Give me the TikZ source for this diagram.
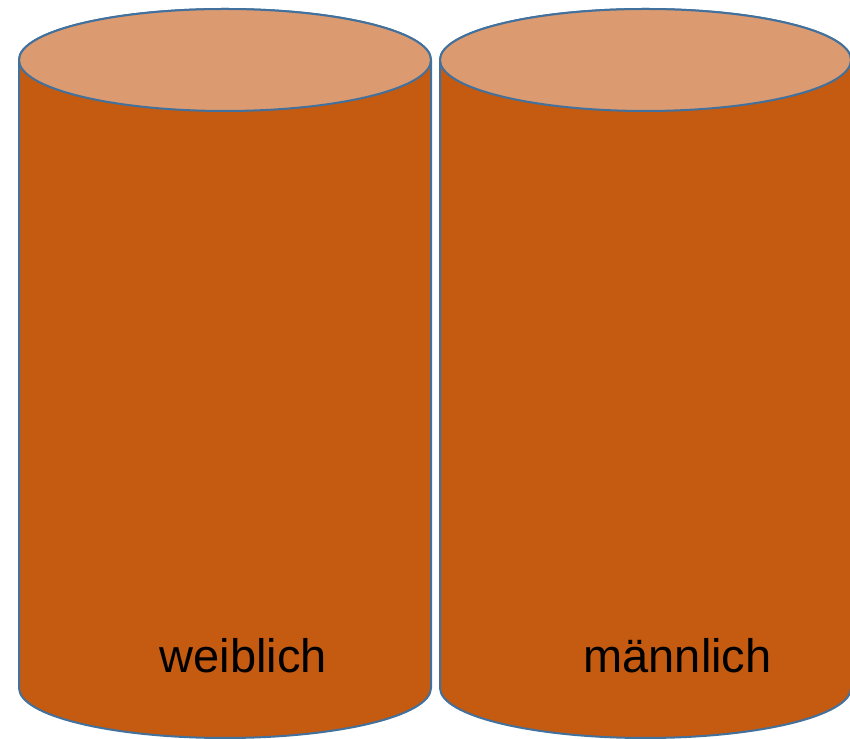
\documentclass[tikz,border=0pt]{standalone}
\usepackage{fontspec}
\setmainfont{Liberation Sans}
\usepackage{tikz}
\usetikzlibrary{positioning}
\definecolor{bodyorange}{HTML}{C55A11}
\definecolor{toporange}{HTML}{DC9A70}
\definecolor{rimblue}{HTML}{41719C}

\begin{document}
\begin{tikzpicture}[
    x=1pt, y=1pt,
    side/.style={fill=bodyorange, draw=rimblue, line width=2pt},
    lid/.style={fill=toporange, draw=rimblue, line width=2pt},
    label/.style={font=\fontsize{47}{55}\selectfont, text=black, anchor=base, inner sep=0pt}
]
\useasboundingbox (0,0) rectangle (850,738);
% left drum
\draw[side] (19,678) -- (19,50) arc (180:360:206 and 50) -- (431,678) arc (0:180:206 and 51) -- cycle;
\draw[lid] (225,678) ellipse (206 and 51);
% right drum
\draw[side] (440,678) -- (440,50) arc (180:360:205.5 and 50) -- (851,678) arc (0:180:205.5 and 51) -- cycle;
\draw[lid] (645.5,678) ellipse (205.5 and 51);
% labels
\node[label] (weiblich) at (243.5,66) {weiblich};
\node[label] (maennlich) at (677.5,66) {männlich};
\end{tikzpicture}
\end{document}
